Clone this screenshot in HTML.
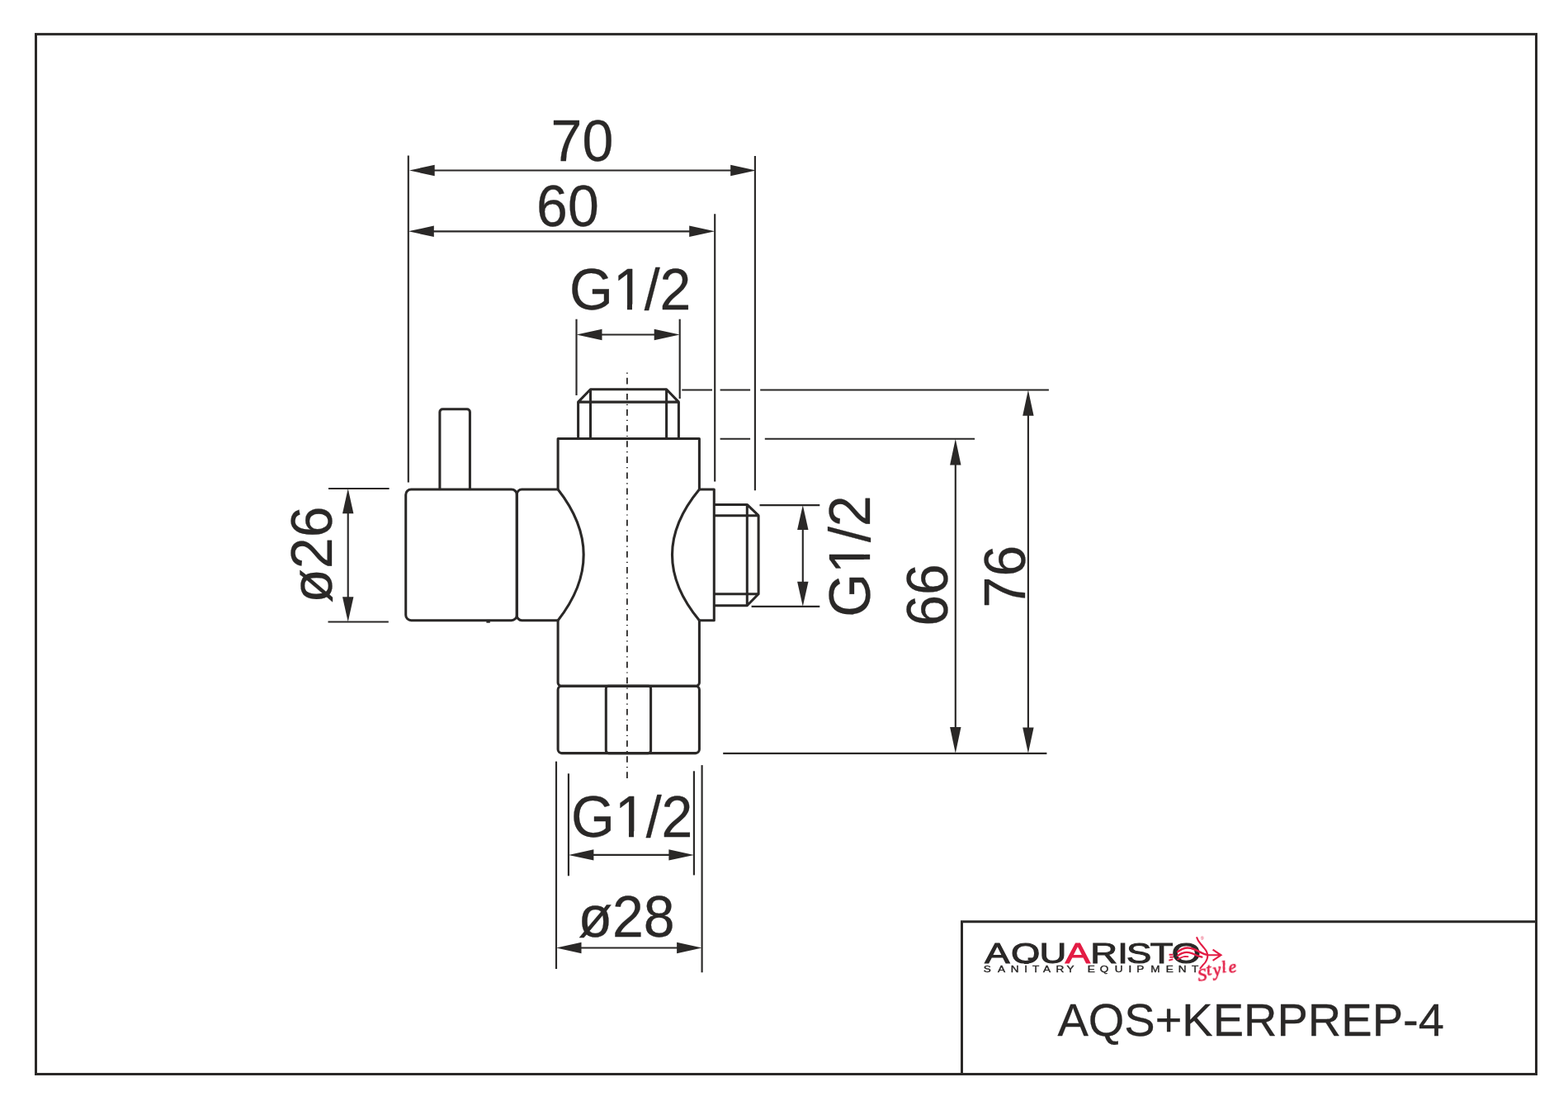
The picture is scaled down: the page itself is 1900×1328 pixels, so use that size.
<!DOCTYPE html>
<html lang="cs">
<head>
<meta charset="utf-8">
<title>AQS+KERPREP-4</title>
<style>
html,body{margin:0;padding:0;background:#fff;}
body{width:1900px;height:1328px;overflow:hidden;}
svg{display:block;}
text{font-family:"Liberation Sans",Arial,Helvetica,sans-serif;fill:#2a2827;font-kerning:none;}
.dim{font-size:68px;}
.frame{fill:none;stroke:#2a2827;stroke-width:3;}
.body{fill:none;stroke:#2a2827;stroke-width:3.05;stroke-linejoin:round;stroke-linecap:butt;}
.thin{fill:none;stroke:#2a2827;stroke-width:2.15;}
.thin polygon{fill:#2a2827;stroke:none;}
.dim,.code{stroke:#2a2827;stroke-width:0.3;stroke-linejoin:round;}
.logo,.script{will-change:transform;}
.script{font-family:"Liberation Serif","DejaVu Serif",serif;font-style:italic;}
.cl{fill:none;stroke:#2a2827;stroke-width:1.8;stroke-dasharray:1.2 5.15 7.6 5.15;}
</style>
</head>
<body>
<svg width="1900" height="1328" viewBox="0 0 1900 1328">
<rect width="1900" height="1328" fill="#fff"/>

<g class="frame">
<rect x="43.5" y="41.4" width="1818" height="1260.1"/>
<path d="M1165.5 1301.5V1116.7H1861.5"/>
</g>
<g class="body"><path d="M532.9 593V499.3a3.5 3.5 0 0 1 3.5-3.5h29.5a3.5 3.5 0 0 1 3.5 3.5V593"/><rect x="491.7" y="593" width="134.6" height="158.7" rx="6.5" ry="6.5"/><path d="M676.1 593H632.3a6 6 0 0 0-6 6V745.7a6 6 0 0 0 6 6H676.1"/><path d="M676.1 593Q738.3 672.4 676.1 751.7"/><path d="M847.4 593Q781.6 672.4 847.4 751.7"/><path d="M676.1 593V531.4H847.4V593"/><path d="M847.4 593H865.3V751.7H847.4"/><path d="M676.1 751.7V827.2a4 4 0 0 0 4 4H843.4a4 4 0 0 0 4-4V751.7"/><rect x="676.1" y="831.2" width="171.3" height="81.4" rx="4.5" ry="4.5"/><rect x="734.3" y="831.2" width="54.3" height="81.4" rx="3" ry="3"/><path d="M700.6 531.4V487.1H822.4V531.4M715.5 531.4V471.8H807.6V531.4M715.5 471.8L700.6 487.1M807.6 471.8L822.4 487.1"/><path d="M865.3 611.4H905.3V733.8H865.3M865.3 624.7H919.1V719.7H865.3M905.3 611.4L919.1 624.7M905.3 733.8L919.1 719.7"/></g>
<rect x="589.4" y="752.8" width="4.4" height="1.9" fill="#2a2827"/>
<line class="cl" x1="759.9" y1="451.5" x2="759.9" y2="943.8"/>
<g class="thin"><line x1="494.8" y1="188.5" x2="494.8" y2="584.4"/><line x1="914.9" y1="189.0" x2="914.9" y2="594.2"/><line x1="866.2" y1="259.2" x2="866.2" y2="583.6"/><line x1="504.8" y1="206.5" x2="904.9" y2="206.5"/><polygon points="495.9,206.5 526.7,199.8 526.7,213.2"/><polygon points="916.0,206.5 885.2,199.8 885.2,213.2"/><line x1="504.8" y1="280.3" x2="856.2" y2="280.3"/><polygon points="494.8,280.3 525.8,273.6 525.8,287.0"/><polygon points="866.2,280.3 835.2,273.6 835.2,287.0"/><line x1="698.5" y1="386.7" x2="698.5" y2="479.0"/><line x1="823.7" y1="386.7" x2="823.7" y2="483.0"/><line x1="708.5" y1="405.5" x2="813.7" y2="405.5"/><polygon points="698.5,405.5 729.5,398.8 729.5,412.2"/><polygon points="823.7,405.5 792.7,398.8 792.7,412.2"/><line x1="398.0" y1="592.0" x2="471.6" y2="592.0"/><line x1="397.5" y1="753.5" x2="470.8" y2="753.5"/><line x1="421.7" y1="602.0" x2="421.7" y2="743.5"/><polygon points="421.7,592.0 415.0,622.2 428.4,622.2"/><polygon points="421.7,753.5 415.0,723.3 428.4,723.3"/><line x1="826.3" y1="472.5" x2="863.0" y2="472.5"/><line x1="872.6" y1="472.5" x2="909.1" y2="472.5"/><line x1="921.2" y1="472.5" x2="1270.9" y2="472.5"/><line x1="872.6" y1="531.7" x2="909.1" y2="531.7"/><line x1="926.8" y1="531.7" x2="1181.1" y2="531.7"/><line x1="876.2" y1="912.8" x2="1268.4" y2="912.8"/><line x1="1245.9" y1="482.5" x2="1245.9" y2="902.8"/><polygon points="1245.9,472.5 1239.2,503.8 1252.6,503.8"/><polygon points="1245.9,912.8 1239.2,881.5 1252.6,881.5"/><line x1="1157.8" y1="541.7" x2="1157.8" y2="902.8"/><polygon points="1157.8,531.7 1151.1,563.5 1164.5,563.5"/><polygon points="1157.8,912.8 1151.1,881.0 1164.5,881.0"/><line x1="920.5" y1="612.1" x2="993.3" y2="612.1"/><line x1="910.6" y1="734.8" x2="993.3" y2="734.8"/><line x1="972.8" y1="622.1" x2="972.8" y2="724.8"/><polygon points="972.8,612.1 966.1,642.1 979.5,642.1"/><polygon points="972.8,734.8 966.1,704.8 979.5,704.8"/><line x1="674.0" y1="922.6" x2="674.0" y2="1174.0"/><line x1="850.6" y1="927.1" x2="850.6" y2="1178.3"/><line x1="688.9" y1="937.3" x2="688.9" y2="1061.3"/><line x1="840.9" y1="934.3" x2="840.9" y2="1060.4"/><line x1="698.9" y1="1035.9" x2="830.9" y2="1035.9"/><polygon points="688.9,1035.9 719.4,1029.2 719.4,1042.6"/><polygon points="840.9,1035.9 810.4,1029.2 810.4,1042.6"/><line x1="684.0" y1="1148.5" x2="840.6" y2="1148.5"/><polygon points="674.0,1148.5 704.5,1141.8 704.5,1155.2"/><polygon points="850.6,1148.5 820.1,1141.8 820.1,1155.2"/></g>
<text class="dim" transform="translate(705.4 195.2) scale(1 1.03)" text-anchor="middle">70</text><text class="dim" transform="translate(687.9 274.2) scale(1 1.03)" text-anchor="middle">60</text><text class="dim" transform="translate(763.7 375.4) scale(1 1.03)" text-anchor="middle">G1/2</text><g transform="translate(763.7 375.4) scale(1 1.03)" fill="#fff"><rect x="-16.34" y="-6.6" width="12.62" height="8.6"/><rect x="2.29" y="-6.6" width="12.09" height="8.6"/></g><text class="dim" transform="translate(765.7 1014.1) scale(1 1.03)" text-anchor="middle">G1/2</text><g transform="translate(765.7 1014.1) scale(1 1.03)" fill="#fff"><rect x="-16.34" y="-6.6" width="12.62" height="8.6"/><rect x="2.29" y="-6.6" width="12.09" height="8.6"/></g><text class="dim" transform="translate(759.1 1135.0) scale(1 1.03)" text-anchor="middle">ø28</text><text class="dim" transform="translate(402.3 672.1) rotate(-90) scale(1 1.03)" text-anchor="middle">ø26</text><text class="dim" transform="translate(1053.6 674.1) rotate(-90) scale(1 1.03)" text-anchor="middle">G1/2</text><g transform="translate(1053.6 674.1) rotate(-90) scale(1 1.03)" fill="#fff"><rect x="-16.34" y="-6.6" width="12.62" height="8.6"/><rect x="2.29" y="-6.6" width="12.09" height="8.6"/></g><text class="dim" transform="translate(1147.6 721.0) rotate(-90) scale(1 1.03)" text-anchor="middle">66</text><text class="dim" transform="translate(1242.0 698.6) rotate(-90) scale(1 1.03)" text-anchor="middle">76</text>
<text class="code" transform="translate(1515.6 1255.3) scale(1 1.0)" text-anchor="middle" font-size="56">AQS+KERPREP-4</text>
<defs><clipPath id="capclip"><rect x="1180" y="1130" width="290" height="37.4"/></clipPath></defs><g><g clip-path="url(#capclip)"><g transform="translate(0 1166.9) scale(1.32 1)"><text class="logo" font-size="34.4" stroke="#2a2827" stroke-width="1.0" x="904.06 927.99 954.13 977.77 1000.91 1025.87 1034.03 1055.87 1075.64" y="0">AQU<tspan fill="#e31c44" stroke="#e31c44">A</tspan>RISTO</text></g></g><path d="M1245.6 1161.9H1254.5" fill="none" stroke="#2a2827" stroke-width="3"/><g transform="translate(0 1177.5) scale(1.2 1)"><text class="logo" font-size="11.3" stroke="#2a2827" stroke-width="0.4" x="993.11 1007.44 1020.71 1034.39 1042.59 1053.36 1066.26 1077.15 1084.69 1098.09 1110.65 1125.63 1139.51 1147.65 1161.96 1177.26 1189.75 1203.34" y="0">SANITARY EQUIPMENT</text></g><g fill="none" stroke="#e31c44" stroke-width="2.1" stroke-linecap="round" stroke-linejoin="miter"><path d="M1427.1 1153.2C1428.1 1152.6 1430.6 1150.7 1432.7 1149.9C1434.7 1149.1 1437.2 1148.4 1439.5 1148.5C1441.8 1148.5 1444.1 1149.2 1446.4 1150.0C1448.7 1150.8 1451.1 1152.2 1453.2 1153.2C1455.3 1154.2 1457.4 1155.2 1459.0 1155.8C1460.7 1156.5 1462.5 1156.9 1463.2 1157.1" stroke-width="2.4"/><path d="M1426.9 1158.0C1427.7 1157.6 1430.3 1155.8 1432.1 1155.1C1434.0 1154.5 1435.9 1153.9 1437.9 1153.9C1440.0 1153.9 1442.2 1154.5 1444.3 1155.1C1446.4 1155.8 1448.6 1157.0 1450.6 1157.8C1452.6 1158.5 1455.4 1159.3 1456.4 1159.6" stroke-width="2.3"/><path d="M1427.1 1162.5C1427.8 1162.2 1429.8 1161.0 1431.1 1160.4C1432.4 1159.8 1433.4 1159.3 1434.8 1159.1C1436.2 1158.9 1438.7 1159.1 1439.5 1159.1" stroke-width="1.8"/><path d="M1416.6 1156.7L1421.3 1156.7M1417.4 1159.8L1421.9 1159.6M1416.3 1163.6L1421.3 1162.3" stroke-width="1.9" stroke-linecap="butt"/><path d="M1462.2 1157.2L1478.5 1157.3M1469.6 1150.7L1479.5 1157.3L1469.6 1163.8" stroke-linecap="butt"/><path d="M1450.3 1136.2C1450.6 1136.8 1451.3 1138.8 1452.2 1140.1C1453.0 1141.5 1454.2 1142.9 1455.3 1144.3C1456.5 1145.7 1457.9 1147.2 1459.0 1148.6C1460.1 1150.0 1461.2 1151.3 1461.9 1152.8C1462.6 1154.3 1463.1 1156.0 1463.2 1157.5C1463.4 1159.0 1463.2 1160.3 1462.7 1161.7C1462.3 1163.1 1461.5 1164.6 1460.6 1166.0C1459.7 1167.3 1458.5 1168.5 1457.4 1169.6C1456.4 1170.8 1455.0 1172.5 1454.5 1173.1" /></g><text class="script" transform="translate(1460.3 1184.6) rotate(-10.4)" style="fill:#e31c44;stroke:#e31c44;stroke-width:0.7"><tspan x="-8.5" y="3.2" font-size="22">S</tspan><tspan x="3 11 21.5 30" y="-1.8 0 -1.8 0" font-size="21.5">tyle</tspan></text><text class="logo" x="1456.7" y="1139.4" font-size="5.4" style="fill:#e31c44" text-anchor="middle">®</text></g>
</svg>
</body>
</html>
